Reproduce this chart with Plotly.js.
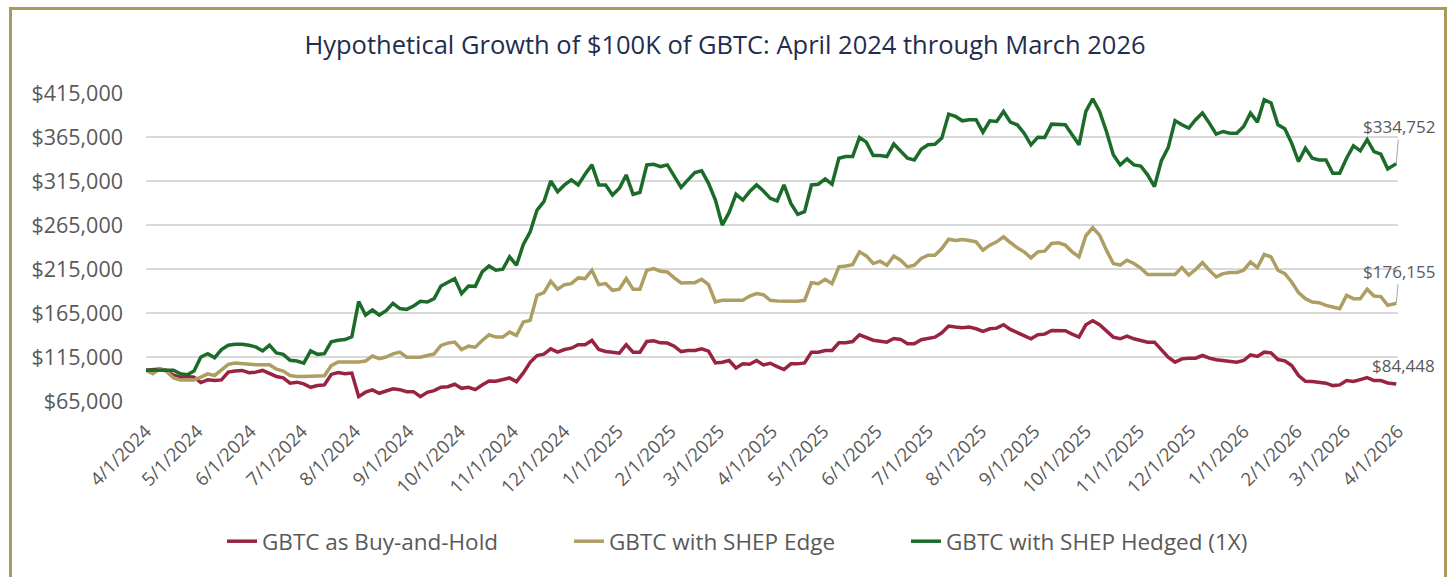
<!DOCTYPE html>
<html>
<head>
<meta charset="utf-8">
<script src="https://cdn.plot.ly/plotly-3.0.1.min.js"></script>
<style>
  html, body { margin: 0; padding: 0; background: #ffffff; }
  #wrap { position: relative; width: 1450px; height: 577px; overflow: hidden; }
  #chart { position: absolute; left: 0; top: 0; width: 1450px; height: 577px; }
  #frame { position: absolute; left: 9px; top: 7px; width: 1432px; height: 620px;
           border: 3px solid #A99A5F; pointer-events: none; box-sizing: content-box; }
</style>
</head>
<body>
<div id="wrap">
  <div id="chart"></div>
  <div id="frame"></div>
</div>
<script>
const seriesNames = ["GBTC as Buy-and-Hold", "GBTC with SHEP Edge", "GBTC with SHEP Hedged (1X)"];
const startDate = "2024-04-01";
const stepDays = 4;
const lastDate = "2026-03-31";

const buyHold = [
100000,100500,101300,99700,94400,92100,92900,92100,86000,89000,
88300,89000,97800,99000,99700,97100,97800,99700,95900,92900,
91300,85200,86400,84500,80600,82600,83300,95200,97400,95900,
96700,70000,75000,77600,73800,76800,78800,77900,75600,75600,
69900,74800,76800,80600,81300,84000,79400,80600,77900,83200,
87800,87400,89300,91200,87000,96900,109000,116700,118200,124300,
120500,123500,125000,128900,128900,133800,123500,121200,120500,119300,
128900,120500,120500,132600,133400,131100,130800,127300,121200,122400,
122400,124300,121600,108300,109100,111000,102600,107200,106800,111000,
106000,107900,104100,100700,107200,107200,108300,120500,120500,122400,
122400,131100,131100,132600,140200,137600,134100,133000,131900,136000,
135000,130000,130000,134600,135700,137600,142500,150100,149000,148200,
149000,147100,144100,147100,147800,151600,146300,142500,139500,135700,
140200,141000,145200,145200,144800,141000,137600,151600,156200,151600,
145200,137600,135700,138700,135700,134000,131900,131900,123200,114800,
109100,112900,113700,113700,116700,113700,111800,110600,109900,109100,
111000,117500,115600,120500,119700,112100,110600,105300,93900,87400,
87100,86300,85200,82500,83300,88200,87100,89300,91600,88200,
88200,85500,84448];

const shepEdge = [
100000,96000,101600,98600,91300,89000,89000,89000,92100,95900,
94000,99700,106600,108100,107400,106200,106200,106200,106200,101300,
99000,94000,92900,92900,92900,92900,93600,105100,109300,109300,
109300,109300,110400,116100,113100,115000,118600,120500,114800,114800,
114800,116700,118600,128100,130800,131900,123500,127300,126200,133800,
140200,137600,137600,143300,139500,154700,156600,185100,188100,201100,
192000,197200,198400,204900,204100,213600,197200,198400,190800,192000,
204100,192000,192000,213600,215500,212500,211700,204900,199100,199500,
199500,203300,197200,177500,179400,179400,179400,179400,184300,187000,
185800,179400,178600,178300,178300,178300,179400,199500,198400,203300,
198400,217400,218500,220000,234500,229900,221200,223900,219300,229700,
225000,217400,219300,226900,230600,230600,238300,248900,247400,248500,
247400,245900,236400,242100,245900,251600,245100,239100,234500,227700,
234500,235300,244000,244800,242100,234500,228800,252800,261900,253500,
236400,221200,219300,225000,221200,216000,208700,208700,208700,208700,
208700,216600,208000,214400,222300,213600,206000,209800,210900,210900,
213600,223100,216600,231500,228800,213600,209800,200300,188100,181300,
177500,176700,173700,171800,169900,185000,181300,181300,192000,184300,
183600,173700,176155];

const shepHedged = [
100000,100000,100000,100000,100000,95900,94800,99000,115000,118800,
114200,123400,128400,129500,129500,128400,126500,121900,128400,119600,
118000,111200,110400,108100,121900,118000,118800,132200,134100,134800,
137900,178000,162700,168400,162700,167700,176000,170000,169100,173000,
178300,177500,181300,195700,199500,204100,187000,195700,195300,211700,
218500,213600,214700,228800,219300,242800,257300,282000,291500,315000,
302900,310500,316200,310500,322700,333300,310500,310500,299100,306700,
321900,299900,302000,333300,334000,331400,333300,320000,307700,316200,
324600,326500,312400,293400,264900,279300,299900,293400,303000,310500,
303700,295300,292300,310500,289600,277100,280100,310500,311300,317300,
311300,340900,342800,342800,364500,359200,343900,343900,342800,357000,
348500,340900,339000,351100,356100,356800,363700,391000,388400,383400,
384600,384600,370500,383400,382600,394000,381900,378900,369400,356100,
364800,364400,379600,379600,378900,367500,356100,394100,408500,394100,
371300,344700,333300,340100,333300,332000,322000,308600,337900,353000,
383500,378900,375100,384600,392200,380800,368300,371300,369400,369400,
377000,392200,381900,407400,403600,378900,374300,358000,337100,352300,
340900,339000,339000,323800,323800,340900,355000,349300,362000,348500,
345500,328700,334752];

const endLabels = ["$84,448", "$176,155", "$334,752"];
const yTicks = [65000, 115000, 165000, 215000, 265000, 315000, 365000, 415000];

// ---- build the date index ----
function buildDates(n) {
  const out = [];
  const t0 = Date.UTC(2024, 3, 1);
  for (let i = 0; i < n - 1; i++) {
    const d = new Date(t0 + i * stepDays * 86400000);
    out.push(d.toISOString().slice(0, 10));
  }
  out.push(lastDate);
  return out;
}
const dates = buildDates(buyHold.length);

const colors = ["#982442", "#AD9E63", "#1B6B29"];
const allSeries = [buyHold, shepEdge, shepHedged];
const legendWidths = [302, 292, 300];

const traces = allSeries.map((vals, k) => ({
  type: "scatter",
  mode: "lines",
  name: seriesNames[k],
  x: dates,
  y: vals,
  line: { color: colors[k], width: 3.5 },
  legendwidth: legendWidths[k],
  hoverinfo: "x+y+name"
}));

const annFont = { family: "Open Sans", size: 17, color: "#595959" };
const lastX = dates[dates.length - 1];
const annotations = [
  { x: lastX, y: shepHedged[shepHedged.length - 1], text: endLabels[2],
    showarrow: true, arrowhead: 0, arrowwidth: 1, arrowcolor: "#A6A6A6",
    ax: 3, ay: -37, font: annFont },
  { x: lastX, y: shepEdge[shepEdge.length - 1], text: endLabels[1],
    showarrow: true, arrowhead: 0, arrowwidth: 1, arrowcolor: "#A6A6A6",
    ax: 3, ay: -32, font: annFont },
  { x: lastX, y: buyHold[buyHold.length - 1], text: endLabels[0],
    showarrow: false, xshift: 7, yshift: 18, font: annFont }
];

const layout = {
  width: 1450,
  height: 577,
  paper_bgcolor: "#ffffff",
  plot_bgcolor: "#ffffff",
  margin: { l: 146, r: 52, t: 93, b: 176, pad: 0 },
  font: { family: "Open Sans, sans-serif", color: "#595959" },
  title: {
    text: "Hypothetical Growth of $100K of GBTC: April 2024 through March 2026",
    font: { family: "Open Sans", size: 25.5, color: "#1F2D4F" },
    x: 0.5, xref: "container", xanchor: "center",
    y: 1 - 45 / 577, yref: "container", yanchor: "middle"
  },
  xaxis: {
    type: "date",
    range: ["2024-04-01", "2026-04-01"],
    tick0: "2024-04-01",
    dtick: "M1",
    tickformat: "%-m/%-d/%Y",
    tickangle: -45,
    showgrid: false,
    zeroline: false,
    showline: false,
    ticks: "",
    tickfont: { family: "Open Sans", size: 18.5, color: "#595959" },
    ticklabelstandoff: 15,
    fixedrange: true
  },
  yaxis: {
    range: [65000, 415000],
    tickmode: "array",
    tickvals: yTicks,
    ticktext: yTicks.map(v => "$" + v.toLocaleString("en-US")),
    showgrid: true,
    gridcolor: "#D9D9D9",
    gridwidth: 1.5,
    zeroline: false,
    showline: false,
    ticks: "",
    tickfont: { family: "Open Sans", size: 21.5, color: "#595959" },
    ticklabelstandoff: 22,
    fixedrange: true
  },
  showlegend: true,
  legend: {
    orientation: "h",
    x: (222 - 146) / 1252,
    xanchor: "left",
    y: (400.7 - 541) / 307.4,
    yanchor: "middle",
    entrywidthmode: "pixels",
    font: { family: "Open Sans", size: 22.5, color: "#595959" },
    bgcolor: "rgba(0,0,0,0)",
    traceorder: "normal"
  },
  annotations: annotations
};

Plotly.newPlot("chart", traces, layout, { displayModeBar: false, staticPlot: true });
</script>
</body>
</html>
